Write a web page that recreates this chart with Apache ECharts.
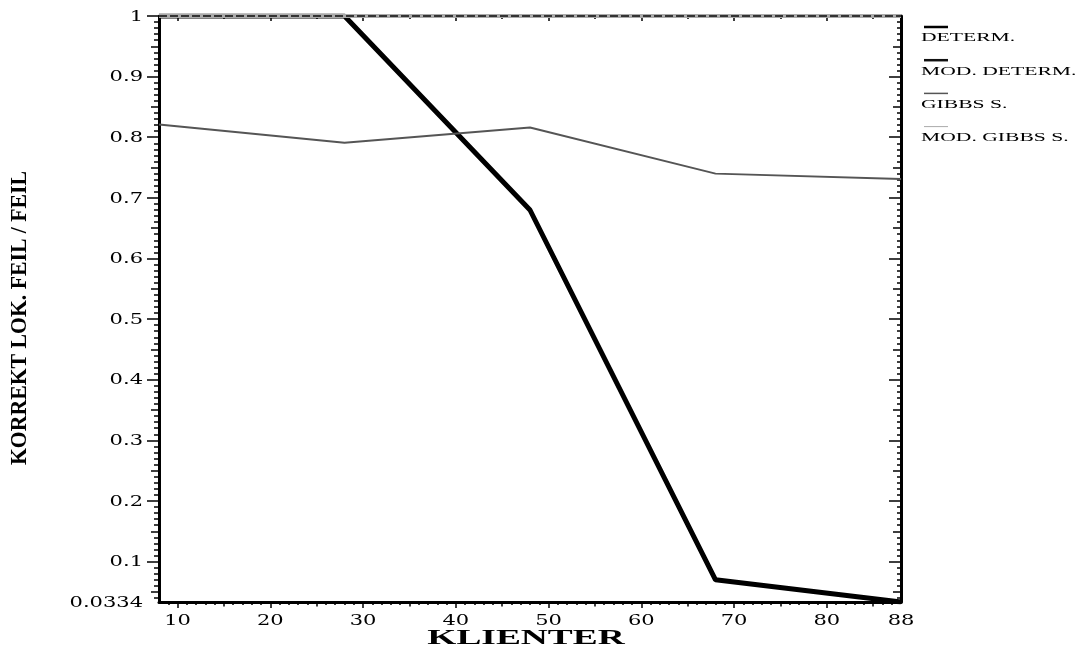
<!DOCTYPE html>
<html>
<head>
<meta charset="utf-8">
<script src="https://cdn.jsdelivr.net/npm/echarts@6/dist/echarts.min.js"></script>
<style>
html,body{margin:0;padding:0;background:#fff;}
#c{width:1081px;height:646px;}
</style>
</head>
<body>
<div id="c"></div>
<script>
// ---- data ----
var klienter = [8, 28, 48, 68, 88];
var seriesNames = ['DETERM.', 'MOD. DETERM.', 'GIBBS S.', 'MOD. GIBBS S.'];
var determ = [1, 1, 0.68, 0.07, 0.0334];
var modDeterm = [1, 1, 1, 1, 1];
var gibbs = [0.821, 0.791, 0.816, 0.740, 0.731];
var modGibbs = [1, 1, 1, 1, 1];
var xTickLabels = [10, 20, 30, 40, 50, 60, 70, 80, 88];
var yTickLabels = [0.0334, 0.1, 0.2, 0.3, 0.4, 0.5, 0.6, 0.7, 0.8, 0.9, 1];
var xTitle = 'KLIENTER';
var yTitle = 'KORREKT LOK. FEIL / FEIL';

var X_MIN = 8, X_MAX = 88, Y_MIN = 0.0334, Y_MAX = 1;

function pairs(ys) { return klienter.map(function (x, i) { return [x, ys[i]]; }); }
function r2(v) { return Math.round(v * 100) / 100; }

// tick position lists
var xMajor = [10, 20, 30, 40, 50, 60, 70, 80];
var xMid = [15, 25, 35, 45, 55, 65, 75, 85];
var xMinor = [];
for (var i = 9; i <= 87; i++) { if (i % 5 !== 0) xMinor.push(i); }
var yMajor = [0.1, 0.2, 0.3, 0.4, 0.5, 0.6, 0.7, 0.8, 0.9];
var yMid = [];
for (var k = 5; k < 100; k += 10) { if (k / 100 > Y_MIN) yMid.push(r2(k / 100)); }
var yMinor = [];
for (var j = 4; j < 100; j++) { if (j % 5 !== 0) yMinor.push(r2(j / 100)); }

var FONT = 'DejaVu Serif';
var TITLE_FONT = 'Liberation Serif';

function xAx(pos, ticks, len, inside, showLine) {
  return {
    type: 'value', min: X_MIN, max: X_MAX, position: pos,
    axisLine: { show: showLine, onZero: false, lineStyle: { color: '#000', width: 3 } },
    axisTick: { show: true, inside: inside, customValues: ticks, length: len, lineStyle: { color: '#000', width: 1.5 } },
    axisLabel: { show: false },
    splitLine: { show: false }
  };
}
function yAx(pos, ticks, len, inside, showLine) {
  return {
    type: 'value', min: Y_MIN, max: Y_MAX, position: pos,
    axisLine: { show: showLine, onZero: false, lineStyle: { color: '#000', width: 3 } },
    axisTick: { show: true, inside: inside, customValues: ticks, length: len, lineStyle: { color: '#000', width: 1.5 } },
    axisLabel: { show: false },
    splitLine: { show: false }
  };
}

var legendStyles = [
  { color: '#000', width: 2.5 },
  { color: '#111', width: 2.5 },
  { color: '#555', width: 1.5 },
  { color: '#aaa', width: 1 }
];

var chart = echarts.init(document.getElementById('c'), null, { renderer: 'canvas' });
chart.setOption({
  animation: false,
  backgroundColor: '#fff',
  grid: { left: 159, right: 180, top: 16, bottom: 44 },
  xAxis: [
    xAx('bottom', xMajor, 6, false, true),
    xAx('bottom', xMid, 4.5, false, false),
    xAx('bottom', xMinor, 3, false, false),
    xAx('top', xMajor, 5, true, false),
    xAx('top', xMid, 3, true, false)
  ],
  yAxis: [
    yAx('left', yMajor.concat([1]), 12, false, true),
    yAx('left', yMid, 8, false, false),
    yAx('left', yMinor, 5, false, false),
    yAx('right', yMajor, 12, true, true),
    yAx('right', yMid, 8, true, false),
    yAx('right', yMinor, 4, true, false)
  ],
  series: [
    { name: seriesNames[0], type: 'line', data: pairs(determ), showSymbol: false, symbol: 'none', z: 2,
      lineStyle: { color: '#000', width: 5 }, itemStyle: { color: '#000' } },
    { name: seriesNames[1], type: 'line', data: pairs(modDeterm), showSymbol: false, symbol: 'none', z: 5, clip: false,
      lineStyle: { color: '#333', width: 2, type: [8, 3] }, itemStyle: { color: '#111' } },
    { name: seriesNames[2], type: 'line', data: pairs(gibbs), showSymbol: false, symbol: 'none', z: 3,
      lineStyle: { color: '#555', width: 2 }, itemStyle: { color: '#555' } },
    { name: seriesNames[3], type: 'line', data: pairs(modGibbs), showSymbol: false, symbol: 'none', z: 4, clip: false,
      lineStyle: { color: '#aaa', width: 4 }, itemStyle: { color: '#aaa' } }
  ]
});

// ---- text drawn at positions from the axes' own scales ----
var g = [];
var LABEL_FONT = '14px "' + FONT + '"';
var STRETCH = 1.5;
var axisX = chart.convertToPixel({ xAxisIndex: 0 }, X_MIN);
var axisY = chart.convertToPixel({ yAxisIndex: 0 }, Y_MIN);
yTickLabels.forEach(function (v) {
  var py = chart.convertToPixel({ yAxisIndex: 0 }, v);
  g.push({ type: 'text', x: axisX - 16, y: py + 1, scaleX: STRETCH, silent: true,
    style: { text: String(v), x: 0, y: 0, align: 'right', verticalAlign: 'middle', font: LABEL_FONT, fill: '#000' } });
});
xTickLabels.forEach(function (v) {
  var px = chart.convertToPixel({ xAxisIndex: 0 }, v);
  g.push({ type: 'text', x: px, y: axisY + 19, scaleX: STRETCH, silent: true,
    style: { text: String(v), x: 0, y: 0, align: 'center', verticalAlign: 'middle', font: LABEL_FONT, fill: '#000' } });
});
// titles
var gridCenterX = (chart.convertToPixel({ xAxisIndex: 0 }, X_MIN) + chart.convertToPixel({ xAxisIndex: 0 }, X_MAX)) / 2;
var gridCenterY = (chart.convertToPixel({ yAxisIndex: 0 }, Y_MIN) + chart.convertToPixel({ yAxisIndex: 0 }, Y_MAX)) / 2;
g.push({ type: 'text', x: gridCenterX - 4, y: 639, scaleX: 1.78, silent: true,
  style: { text: xTitle, x: 0, y: 0, align: 'center', verticalAlign: 'middle', font: 'bold 21px "' + TITLE_FONT + '"', fill: '#000' } });
g.push({ type: 'text', x: 20, y: gridCenterY + 9, rotation: Math.PI / 2, scaleX: 0.945, silent: true,
  style: { text: yTitle, x: 0, y: 0, align: 'center', verticalAlign: 'middle', font: 'bold 23px "' + TITLE_FONT + '"', fill: '#000' } });
// legend
seriesNames.forEach(function (name, idx) {
  var top = 27 + idx * 33.2;
  var s = legendStyles[idx];
  g.push({ type: 'line', silent: true, shape: { x1: 924, y1: top, x2: 948, y2: top },
    style: { stroke: s.color, lineWidth: s.width } });
  g.push({ type: 'text', x: 921, y: top + 11.3, scaleX: 1.8, silent: true,
    style: { text: name, x: 0, y: 0, align: 'left', verticalAlign: 'middle', font: '12px "' + TITLE_FONT + '"', fill: '#000' } });
});
chart.setOption({ graphic: g });
</script>
</body>
</html>
